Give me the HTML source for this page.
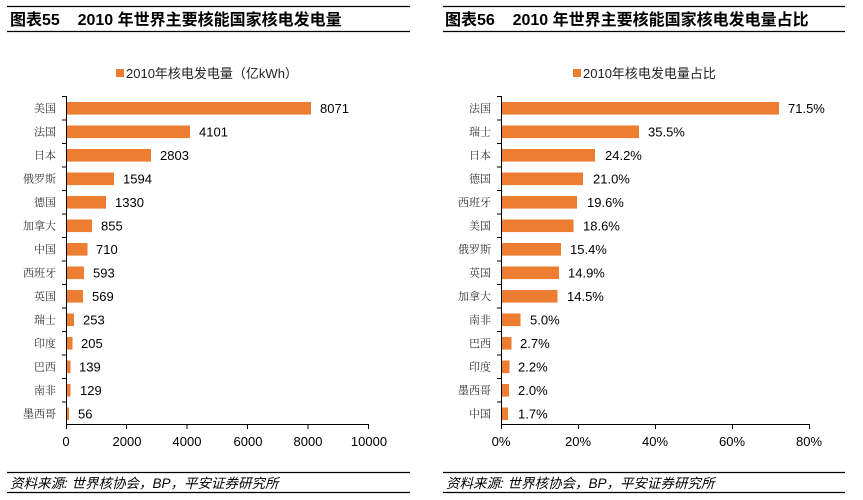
<!DOCTYPE html>
<html><head><meta charset="utf-8"><style>
html,body{margin:0;padding:0;background:#fff;}
svg{display:block;}
.t{font-family:"Liberation Sans","Noto Sans CJK SC",sans-serif;font-weight:bold;font-size:16px;fill:#000;}
.c{font-family:"Noto Serif CJK SC","Liberation Serif",serif;font-size:11px;fill:#333;text-anchor:end;}
.v{font-family:"Liberation Sans",sans-serif;font-size:13px;fill:#000;}
.x{font-family:"Liberation Sans",sans-serif;font-size:13px;fill:#000;text-anchor:middle;}
.l{font-family:"Liberation Sans","Noto Sans CJK SC",sans-serif;font-size:13px;fill:#222;}
.s{font-family:"Liberation Sans","Noto Sans CJK SC",sans-serif;font-size:13.5px;font-style:italic;fill:#000;}
</style></head><body>
<svg width="863" height="500" xmlns="http://www.w3.org/2000/svg">
<g stroke="#000" stroke-width="1.3">
<line x1="7" y1="6.5" x2="410" y2="6.5"/><line x1="7" y1="31.5" x2="410" y2="31.5"/>
<line x1="443" y1="6.5" x2="845" y2="6.5"/><line x1="443" y1="31.5" x2="845" y2="31.5"/>
<line x1="7" y1="472.5" x2="410" y2="472.5"/><line x1="7" y1="492.5" x2="410" y2="492.5"/>
<line x1="443" y1="472.5" x2="845" y2="472.5"/><line x1="443" y1="492.5" x2="845" y2="492.5"/>
</g>
<text class="t" x="10" y="25">图表55&#160;&#160;&#160; 2010 年世界主要核能国家核电发电量</text>
<text class="t" x="445" y="25">图表56&#160;&#160;&#160; 2010 年世界主要核能国家核电发电量占比</text>
<rect x="116" y="69" width="8" height="8" fill="#ED7D31"/>
<text class="l" x="126" y="78">2010年核电发电量（亿kWh）</text>
<rect x="573" y="69" width="8" height="8" fill="#ED7D31"/>
<text class="l" x="583" y="78">2010年核电发电量占比</text>

<g fill="#ED7D31">
<rect x="66" y="102" width="245" height="12.6"/>
<rect x="66" y="125.5" width="124" height="12.6"/>
<rect x="66" y="149" width="85" height="12.6"/>
<rect x="66" y="172.5" width="48" height="12.6"/>
<rect x="66" y="196" width="40" height="12.6"/>
<rect x="66" y="219.5" width="26" height="12.6"/>
<rect x="66" y="243" width="21.5" height="12.6"/>
<rect x="66" y="266.5" width="18" height="12.6"/>
<rect x="66" y="290" width="17" height="12.6"/>
<rect x="66" y="313.5" width="8" height="12.6"/>
<rect x="66" y="337" width="6.5" height="12.6"/>
<rect x="66" y="360.5" width="4.5" height="12.6"/>
<rect x="66" y="384" width="4.5" height="12.6"/>
<rect x="66" y="407.5" width="3" height="12.6"/>
</g>
<g stroke="#000" stroke-width="1">
<line x1="66.5" y1="96" x2="66.5" y2="424"/>
<line x1="66" y1="424.5" x2="369" y2="424.5"/>
<path d="M62 96.5H66M62 120H66M62 143.5H66M62 167H66M62 190.5H66M62 214H66M62 237.5H66M62 261H66M62 284.5H66M62 308H66M62 331.5H66M62 355H66M62 378.5H66M62 402H66"/>
<path d="M126.5 424V429M187 424V429M247.5 424V429M308 424V429M368.5 424V429M66.5 424V429"/>
</g>
<g class="c">
<text x="56" y="112">美国</text><text x="56" y="135.5">法国</text><text x="56" y="159">日本</text><text x="56" y="182.5">俄罗斯</text><text x="56" y="206">德国</text><text x="56" y="229.5">加拿大</text><text x="56" y="253">中国</text><text x="56" y="276.5">西班牙</text><text x="56" y="300">英国</text><text x="56" y="323.5">瑞士</text><text x="56" y="347">印度</text><text x="56" y="370.5">巴西</text><text x="56" y="394">南非</text><text x="56" y="417.5">墨西哥</text>
</g>
<g class="v">
<text x="320" y="113">8071</text><text x="199" y="136.5">4101</text><text x="160" y="160">2803</text><text x="123" y="183.5">1594</text><text x="115" y="207">1330</text><text x="101" y="230.5">855</text><text x="96" y="254">710</text><text x="93" y="277.5">593</text><text x="92" y="301">569</text><text x="83" y="324.5">253</text><text x="81" y="348">205</text><text x="79" y="371.5">139</text><text x="80" y="395">129</text><text x="78" y="418.5">56</text>
</g>
<g class="x">
<text x="66" y="446">0</text><text x="127" y="446">2000</text><text x="187" y="446">4000</text><text x="248" y="446">6000</text><text x="308" y="446">8000</text><text x="369" y="446">10000</text>
</g>
<text class="s" x="10" y="488">资料来源: 世界核协会，BP，平安证券研究所</text>

<g fill="#ED7D31">
<rect x="501" y="102" width="278" height="12.6"/>
<rect x="501" y="125.5" width="138" height="12.6"/>
<rect x="501" y="149" width="94" height="12.6"/>
<rect x="501" y="172.5" width="82" height="12.6"/>
<rect x="501" y="196" width="76" height="12.6"/>
<rect x="501" y="219.5" width="72.5" height="12.6"/>
<rect x="501" y="243" width="60" height="12.6"/>
<rect x="501" y="266.5" width="58" height="12.6"/>
<rect x="501" y="290" width="56.5" height="12.6"/>
<rect x="501" y="313.5" width="19.5" height="12.6"/>
<rect x="501" y="337" width="10.5" height="12.6"/>
<rect x="501" y="360.5" width="8.5" height="12.6"/>
<rect x="501" y="384" width="8" height="12.6"/>
<rect x="501" y="407.5" width="7" height="12.6"/>
</g>
<g stroke="#000" stroke-width="1">
<line x1="501.5" y1="96" x2="501.5" y2="424"/>
<line x1="501" y1="424.5" x2="810" y2="424.5"/>
<path d="M497 96.5H501M497 120H501M497 143.5H501M497 167H501M497 190.5H501M497 214H501M497 237.5H501M497 261H501M497 284.5H501M497 308H501M497 331.5H501M497 355H501M497 378.5H501M497 402H501"/>
<path d="M501.5 424V429M578.5 424V429M655.5 424V429M732.5 424V429M809.5 424V429"/>
</g>
<g class="c">
<text x="491" y="112">法国</text><text x="491" y="135.5">瑞士</text><text x="491" y="159">日本</text><text x="491" y="182.5">德国</text><text x="491" y="206">西班牙</text><text x="491" y="229.5">美国</text><text x="491" y="253">俄罗斯</text><text x="491" y="276.5">英国</text><text x="491" y="300">加拿大</text><text x="491" y="323.5">南非</text><text x="491" y="347">巴西</text><text x="491" y="370.5">印度</text><text x="491" y="394">墨西哥</text><text x="491" y="417.5">中国</text>
</g>
<g class="v">
<text x="788" y="113">71.5%</text><text x="648" y="136.5">35.5%</text><text x="605" y="160">24.2%</text><text x="593" y="183.5">21.0%</text><text x="587" y="207">19.6%</text><text x="583" y="230.5">18.6%</text><text x="570" y="254">15.4%</text><text x="568" y="277.5">14.9%</text><text x="567" y="301">14.5%</text><text x="530" y="324.5">5.0%</text><text x="520" y="348">2.7%</text><text x="518" y="371.5">2.2%</text><text x="518" y="395">2.0%</text><text x="518" y="418.5">1.7%</text>
</g>
<g class="x">
<text x="501" y="446">0%</text><text x="578" y="446">20%</text><text x="655" y="446">40%</text><text x="732" y="446">60%</text><text x="809" y="446">80%</text>
</g>
<text class="s" x="446" y="488">资料来源: 世界核协会，BP，平安证券研究所</text>
</svg>
</body></html>
